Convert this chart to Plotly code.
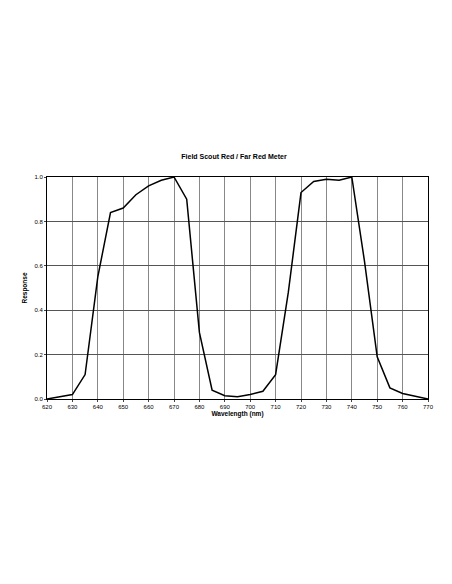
import plotly.graph_objects as go

wavelength = list(range(620, 771, 5))
response = [0.0, 0.01, 0.02, 0.11, 0.55, 0.84, 0.86, 0.92, 0.96, 0.985, 1.0, 0.90, 0.30, 0.04, 0.015, 0.01,
            0.02, 0.035, 0.11, 0.48, 0.93, 0.98, 0.99, 0.985, 1.0, 0.62, 0.19, 0.05, 0.025, 0.012, 0.0]

fig = go.Figure(go.Scatter(x=wavelength, y=response, mode="lines", line=dict(color="black", width=1.5)))
fnt = "Liberation Sans, Arial, sans-serif"
fig.update_layout(
    width=452, height=584, paper_bgcolor="white", plot_bgcolor="white",
    margin=dict(l=39, r=32, t=169, b=193), showlegend=False,
    title=dict(text="<b>Field Scout Red / Far Red Meter</b>", x=0.5, xanchor="center",
               y=1 - 149/584, yanchor="middle", font=dict(family=fnt, size=7, color="black")),
    font=dict(family=fnt, size=6, color="black"),
)
fig.update_xaxes(range=[620, 770], dtick=10, tick0=620, showgrid=True, gridcolor="#888", gridwidth=0.8,
                 showline=True, linecolor="black", mirror=True, linewidth=1, ticks="outside", ticklen=2,
                 title=dict(text="<b>Wavelength (nm)</b>", font=dict(size=6.5), standoff=2), zeroline=False)
fig.update_yaxes(range=[0, 1.0], dtick=0.2, tickformat=".1f", showgrid=True, gridcolor="#555", gridwidth=0.8,
                 showline=True, linecolor="black", mirror=True, linewidth=1, ticks="outside", ticklen=2,
                 title=dict(text="<b>Response</b>", font=dict(size=6.5), standoff=6), zeroline=False)
fig.write_html("out.html")
